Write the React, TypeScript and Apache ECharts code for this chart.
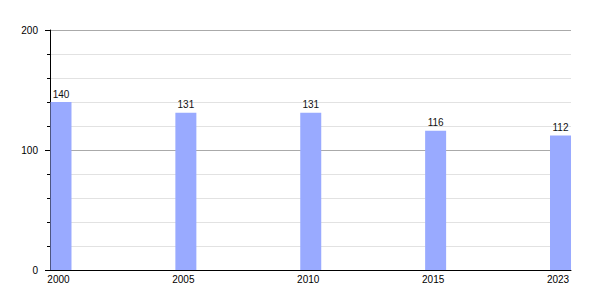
import React, { useEffect, useRef } from "react";
import * as echarts from "echarts";

const years = ["2000", "2005", "2010", "2015", "2023"];
const values = [140, 131, 131, 116, 112];
const yTicks = [0, 100, 200];

export default function App() {
  const ref = useRef<HTMLDivElement>(null);
  useEffect(() => {
    if (!ref.current) return;
    const chart = echarts.init(ref.current, undefined, { renderer: "svg" });
    const font = "'Liberation Sans', Arial, Helvetica, sans-serif";
    chart.setOption({
      animation: false,
      textStyle: { fontFamily: font },
      grid: { left: 50, right: 29, top: 30, bottom: 30, containLabel: false },
      xAxis: {
        type: "value",
        min: -0.088,
        max: 4.084,
        axisLine: { show: true, onZero: false, lineStyle: { color: "#000", width: 1 } },
        axisTick: { show: false },
        splitLine: { show: false },
        axisLabel: {
          customValues: years.map((_, i) => i),
          formatter: (v: number) => years[Math.round(v)] ?? "",
          color: "#000",
          fontSize: 10,
          fontFamily: font,
          margin: 4,
          padding: [0, 5, 0, 0],
        },
      },
      yAxis: {
        type: "value",
        position: "left",
        min: yTicks[0],
        max: yTicks[yTicks.length - 1],
        interval: 100,
        axisLine: { show: true, onZero: false, lineStyle: { color: "#000", width: 1 } },
        axisTick: { show: true, inside: false, length: 5, lineStyle: { color: "#000" } },
        minorTick: { show: true, splitNumber: 5, length: 3, lineStyle: { color: "#000" } },
        splitLine: { show: true, lineStyle: { color: "#aaaaaa", width: 1 } },
        minorSplitLine: { show: true, lineStyle: { color: "#e2e2e2", width: 1 } },
        axisLabel: { color: "#000", fontSize: 10, fontFamily: font, margin: 12 },
      },
      series: [
        {
          type: "bar",
          data: values.map((v, i) => [i, v]),
          barWidth: 21,
          itemStyle: { color: "#99aaff" },
          label: {
            show: true,
            position: "top",
            distance: 3,
            color: "#111",
            fontSize: 10,
            fontFamily: font,
            formatter: (p: any) => String(p.value[1]),
          },
        },
      ],
    });
    return () => chart.dispose();
  }, []);
  return <div ref={ref} style={{ width: 600, height: 300, position: "absolute", left: 0, top: 0 }} />;
}
